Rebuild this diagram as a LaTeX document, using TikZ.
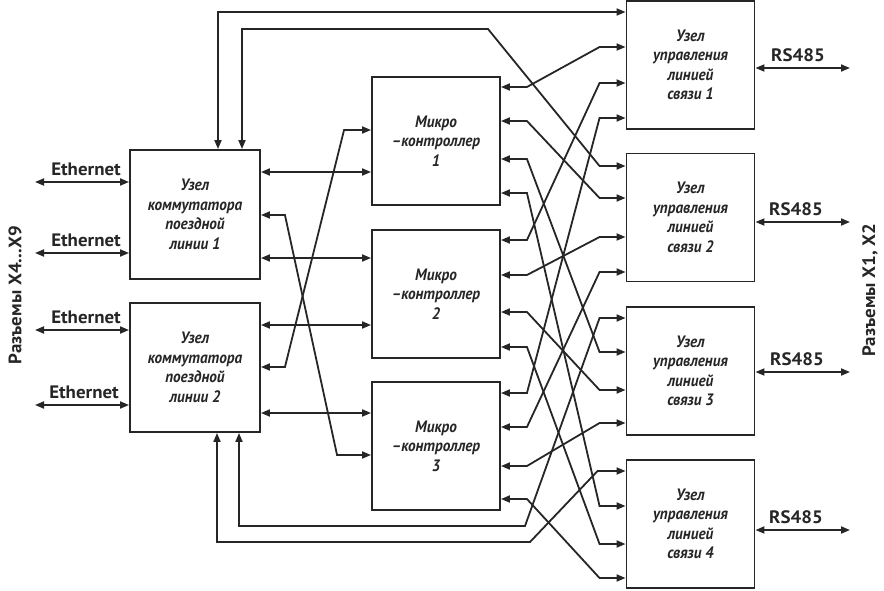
\documentclass[tikz,border=0pt]{standalone}
\usepackage{fontspec}
\setmainfont{PT Sans}
\newfontfamily\lblfont{PT Sans}[FakeStretch=1.05]
\newfontfamily\boxfont{PT Sans}[FakeStretch=0.92]
\usetikzlibrary{arrows.meta,calc}
\definecolor{ink}{HTML}{262626}
\tikzset{
  blk/.style={draw=ink, line width=1.9pt, inner sep=0pt, align=center,
    minimum width=128pt, minimum height=128pt,
    font=\boxfont\fontsize{16.5}{19.5}\selectfont\bfseries\itshape, text=ink},
  conn/.style={draw=ink, line width=1.8pt,
    {Triangle[length=9pt,width=7pt]}-{Triangle[length=9pt,width=7pt]}},
  lbl/.style={font=\lblfont\fontsize{18}{18}\selectfont\bfseries, text=ink, inner sep=0pt},
}
\newcommand\mclink[4]{%
  \draw[conn] (#1.east |- 0,#2) -- ++(26,0)
    -- ($(#3.west |- 0,#4)+(-26,0)$) -- (#3.west |- 0,#4);}
\begin{document}
\begin{tikzpicture}[x=1pt,y=-1pt]
\useasboundingbox[fill=white] (0,0) rectangle (884,590);
% blocks
\node[blk, minimum width=130pt, minimum height=129pt] (S1) at (195,214.5) {Узел\\коммутатора\\поездной\\линии 1};
\node[blk, minimum width=130pt, minimum height=129pt] (S2) at (195,367.5) {Узел\\коммутатора\\поездной\\линии 2};
\node[blk] (MC1) at (436,141) {Микро\\–контроллер\\1};
\node[blk] (MC2) at (436,294) {Микро\\–контроллер\\2};
\node[blk] (MC3) at (436,446) {Микро\\–контроллер\\3};
\node[blk] (L1) at (690.5,65) {Узел\\управления\\линией\\связи 1};
\node[blk] (L2) at (690.5,217.5) {Узел\\управления\\линией\\связи 2};
\node[blk] (L3) at (690.5,371) {Узел\\управления\\линией\\связи 3};
\node[blk] (L4) at (690.5,524) {Узел\\управления\\линией\\связи 4};
% Ethernet
\coordinate (e1) at (35,182);
\coordinate (e2) at (35,253);
\coordinate (e3) at (35,330);
\coordinate (e4) at (35,405);
\draw[conn] (e1) -- (S1.west |- e1);
\draw[conn] (e2) -- (S1.west |- e2);
\draw[conn] (e3) -- (S2.west |- e3);
\draw[conn] (e4) -- (S2.west |- e4);
\node[lbl, anchor=base] (te1) at (86,175) {Ethernet};
\node[lbl, anchor=base] (te2) at (86,246) {Ethernet};
\node[lbl, anchor=base] (te3) at (86,323) {Ethernet};
\node[lbl, anchor=base] (te4) at (84,398) {Ethernet};
% RS485
\coordinate (r1) at (850,68);
\coordinate (r2) at (850,222);
\coordinate (r3) at (850,372);
\coordinate (r4) at (850,530);
\draw[conn] (L1.east |- r1) -- (r1);
\draw[conn] (L2.east |- r2) -- (r2);
\draw[conn] (L3.east |- r3) -- (r3);
\draw[conn] (L4.east |- r4) -- (r4);
\node[lbl, anchor=base] (tr1) at (798,61) {RS485};
\node[lbl, anchor=base] (tr2) at (796,215) {RS485};
\node[lbl, anchor=base] (tr3) at (797,365) {RS485};
\node[lbl, anchor=base] (tr4) at (796,523) {RS485};
% side captions
\node[lbl, rotate=90] (capL) at (15,295) {Разъемы X4...X9};
\node[lbl, rotate=90] (capR) at (870,290) {Разъемы X1, X2};
% switch top / bottom links
\draw[conn] (S1.north -| 218,0) -- (218,12) -- (L1.west |- 0,12);
\draw[conn] (S1.north -| 242,0) -- (242,29) -- (488,29)
  -- ($(L2.west |- 0,166)+(-26,0)$) -- (L2.west |- 0,166);
\draw[conn] (S2.south -| 239,0) -- (239,526) -- (525,526)
  -- ($(L3.west |- 0,318)+(-26,0)$) -- (L3.west |- 0,318);
\draw[conn] (S2.south -| 217,0) -- (217,542) -- (530,542)
  -- ($(L4.west |- 0,471)+(-28,0)$) -- (L4.west |- 0,471);
% switch - microcontroller links
\draw[conn] (S1.east |- 0,172) -- (MC1.west |- 0,172);
\draw[conn] (S1.east |- 0,215) -- ++(24,0) -- ($(MC3.west |- 0,455)+(-34,0)$) -- (MC3.west |- 0,455);
\draw[conn] (S1.east |- 0,258) -- (MC2.west |- 0,258);
\draw[conn] (S2.east |- 0,325) -- (MC2.west |- 0,325);
\draw[conn] (S2.east |- 0,367) -- ++(24,0) -- ($(MC1.west |- 0,130)+(-27,0)$) -- (MC1.west |- 0,130);
\draw[conn] (S2.east |- 0,413) -- (MC3.west |- 0,413);
% microcontroller - line node links
\mclink{MC1}{87}{L1}{47}
\mclink{MC1}{121}{L2}{198}
\mclink{MC1}{159}{L3}{352}
\mclink{MC1}{193}{L4}{506}
\mclink{MC2}{240}{L1}{83}
\mclink{MC2}{275}{L2}{237}
\mclink{MC2}{312}{L3}{390}
\mclink{MC2}{347}{L4}{544}
\mclink{MC3}{393}{L1}{118}
\mclink{MC3}{427}{L2}{272}
\mclink{MC3}{466}{L3}{423}
\mclink{MC3}{499}{L4}{578}
\end{tikzpicture}
\end{document}
